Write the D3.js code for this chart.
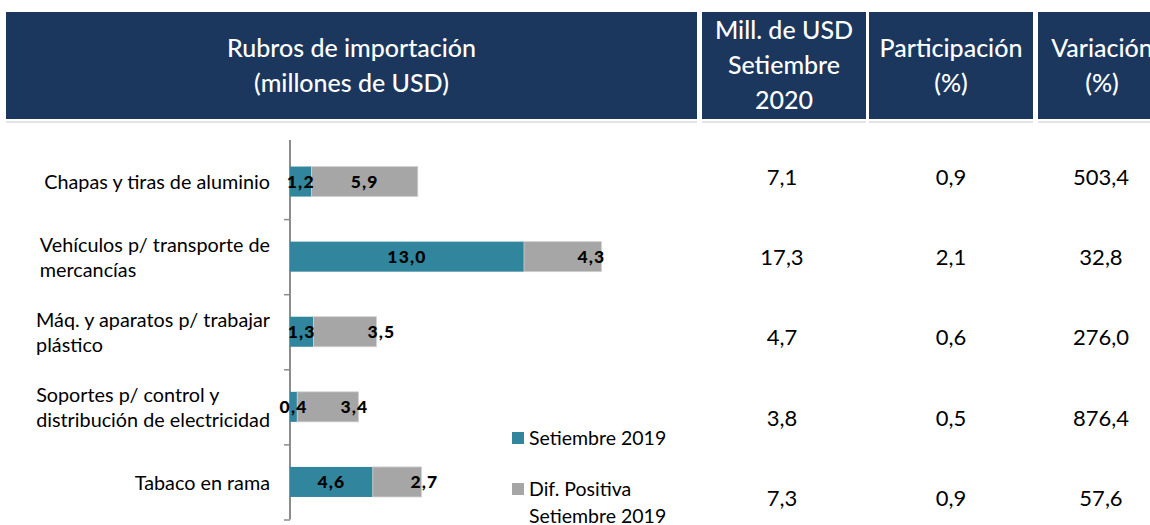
<!DOCTYPE html>
<html>
<head>
<meta charset="utf-8">
<script src="https://cdn.jsdelivr.net/npm/d3@7"></script>
<style>
  html, body { margin: 0; padding: 0; background: #ffffff; }
  svg { display: block; font-family: "Lato", "Noto Sans", sans-serif; }
</style>
</head>
<body>
<svg id="chart" width="1150" height="525"></svg>
<script>
// ---- data ----
const categories = [
  "Chapas y tiras de aluminio",
  "Vehículos p/ transporte de\nmercancías",
  "Máq. y aparatos p/ trabajar\nplástico",
  "Soportes p/ control y\ndistribución de electricidad",
  "Tabaco en rama"
];
const setiembre2019 = [1.2, 13.0, 1.3, 0.4, 4.6];
const difPositiva = [5.9, 4.3, 3.5, 3.4, 2.7];
const millUSD2020 = [7.1, 17.3, 4.7, 3.8, 7.3];
const participacion = [0.9, 2.1, 0.6, 0.5, 0.9];
const variacion = [503.4, 32.8, 276.0, 876.4, 57.6];
const seriesNames = ["Setiembre 2019", "Dif. Positiva\nSetiembre 2019"];
const headerTitles = [
  "Rubros de importación\n(millones de USD)",
  "Mill. de USD\nSetiembre\n2020",
  "Participación\n(%)",
  "Variación\n(%)"
];

// ---- layout / style ----
const C_TEAL = "#31859c", C_GRAY = "#a6a6a6", C_NAVY = "#1b375e";
const headerBoxes = [[6, 697], [702, 866], [869, 1033], [1038, 1160]];
const headerTop = 12, headerBottom = 119;
const grayLabelMode = ["center", "end", "end", "end", "end"];
const grayLabelNudge = [0, -10, 5, -4, 3];

const svg = d3.select("#chart");
const fmt = d3.formatLocale({decimal: ",", thousands: ".", grouping: [3], currency: ["", ""]}).format(".1f");

// header
headerBoxes.forEach((b, i) => {
  svg.append("rect").attr("x", b[0]).attr("y", headerTop)
    .attr("width", b[1] - b[0]).attr("height", headerBottom - headerTop)
    .attr("fill", C_NAVY);
  svg.append("rect").attr("x", b[0]).attr("y", headerBottom + 2)
    .attr("width", b[1] - b[0]).attr("height", 2).attr("fill", "#e3e3e3");
  const lines = headerTitles[i].split("\n");
  const cx = i === 3 ? 1102 : (b[0] + b[1]) / 2;
  const lh = 35;
  const mid = (headerTop + headerBottom) / 2;
  const first = mid - (lines.length - 1) * lh / 2;
  lines.forEach((ln, j) => {
    svg.append("text").attr("x", cx).attr("y", first + j * lh)
      .attr("dy", "0.35em").attr("text-anchor", "middle")
      .attr("fill", "#ffffff").attr("font-size", 25).attr("font-weight", 500)
      .text(ln);
  });
});

// scales
const x = d3.scaleLinear().domain([0, 20]).range([290, 650]);
const y = d3.scaleBand().domain(categories).range([144, 519.5]).paddingInner(0.6).paddingOuter(0.3);
const yEdge = d3.scaleLinear().domain([0, categories.length]).range([144, 519.5]);

// axis with ticks at category boundaries
const axis = svg.append("g").attr("transform", `translate(${x(0)},0)`)
  .call(d3.axisLeft(yEdge).tickValues(d3.range(1, categories.length + 1))
    .tickFormat("").tickSize(6).tickSizeOuter(0));
axis.select(".domain").attr("stroke", "#8c8c8c").attr("stroke-width", 2)
  .attr("d", `M0,140V${yEdge(categories.length)}`);
axis.selectAll(".tick line").attr("stroke", "#8c8c8c").attr("stroke-width", 1.5);

// bars
const rows = categories.map((c, i) => ({c, a: setiembre2019[i], b: difPositiva[i], i}));
svg.append("g").selectAll("rect.a").data(rows).join("rect")
  .attr("x", d => x(0)).attr("y", d => y(d.c))
  .attr("width", d => x(d.a) - x(0)).attr("height", y.bandwidth())
  .attr("fill", C_TEAL);
svg.append("g").selectAll("rect.b").data(rows).join("rect")
  .attr("x", d => x(d.a)).attr("y", d => y(d.c))
  .attr("width", d => x(d.a + d.b) - x(d.a)).attr("height", y.bandwidth())
  .attr("fill", C_GRAY).attr("stroke", "#d0d0d0").attr("stroke-width", 0.8);

// data labels
const lab = svg.append("g").attr("font-size", 17.5).attr("font-weight", 900)
  .attr("fill", "#000").attr("text-anchor", "middle").attr("letter-spacing", 1.2);
lab.selectAll("text.a").data(rows).join("text")
  .attr("x", d => (x(0) + x(d.a)) / 2)
  .attr("y", d => y(d.c) + y.bandwidth() / 2).attr("dy", "0.36em")
  .text(d => fmt(d.a));
lab.selectAll("text.b").data(rows).join("text")
  .attr("x", d => grayLabelMode[d.i] === "center"
      ? (x(d.a) + x(d.a + d.b)) / 2
      : x(d.a + d.b) + grayLabelNudge[d.i])
  .attr("y", d => y(d.c) + y.bandwidth() / 2).attr("dy", "0.36em")
  .text(d => fmt(d.b));

// category labels (left-aligned block, right edge at 270)
categories.forEach(c => {
  const lines = c.split("\n");
  const g = svg.append("g");
  const lh = 25;
  const cy = y(c) + y.bandwidth() / 2 + 1;
  const texts = lines.map((ln, j) => g.append("text")
    .attr("y", cy - (lines.length - 1) * lh / 2 + j * lh).attr("dy", "0.35em")
    .attr("font-size", 19.8).attr("fill", "#000").text(ln));
  const w = d3.max(texts, t => t.node().getComputedTextLength());
  texts.forEach(t => t.attr("x", 270 - w));
});

// table values
const rowY = d3.scaleLinear().domain([0, categories.length - 1]).range([177, 498]);
const cols = [[millUSD2020, 782], [participacion, 951], [variacion, 1101]];
cols.forEach(([arr, cx]) => {
  svg.append("g").selectAll("text").data(arr).join("text")
    .attr("x", cx).attr("y", (d, i) => rowY(i)).attr("dy", "0.36em")
    .attr("text-anchor", "middle").attr("font-size", 22).attr("fill", "#000")
    .text(d => fmt(d));
});

// legend
const legY = [438, 489];
seriesNames.forEach((n, i) => {
  svg.append("rect").attr("x", 512).attr("y", legY[i] - 6).attr("width", 12).attr("height", 12)
    .attr("fill", i === 0 ? C_TEAL : C_GRAY);
  n.split("\n").forEach((ln, j) => {
    svg.append("text").attr("x", 529).attr("y", legY[i] + j * 27).attr("dy", "0.35em")
      .attr("font-size", 19.5).attr("fill", "#000").text(ln);
  });
});
</script>
</body>
</html>
